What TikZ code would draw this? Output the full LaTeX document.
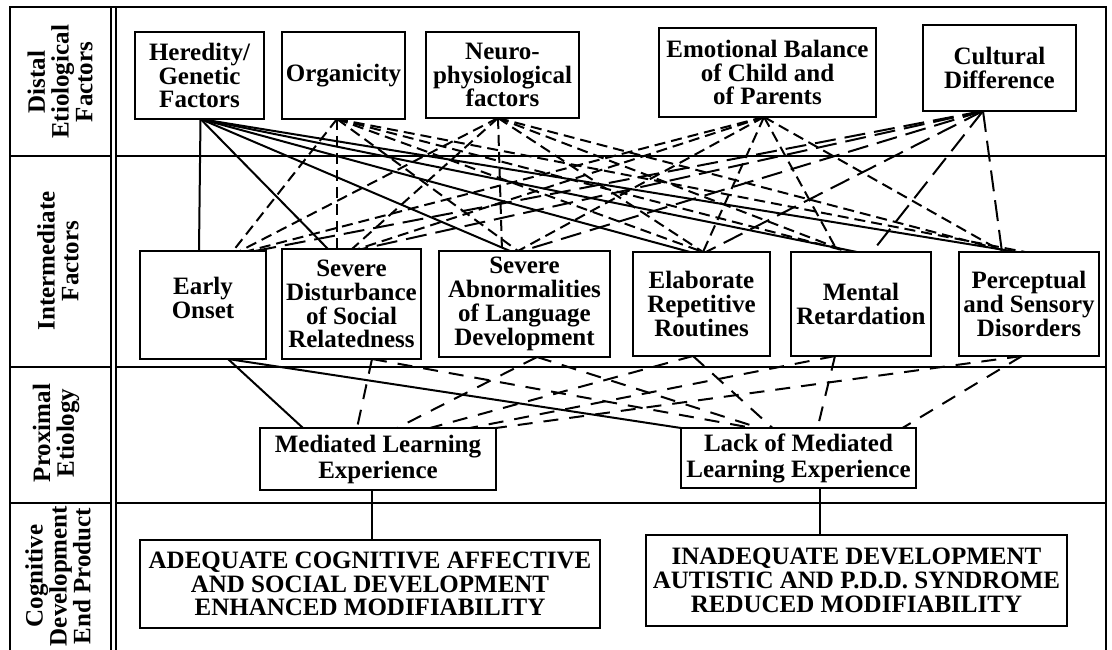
\documentclass[tikz,border=0pt]{standalone}
\usepackage{fontspec}
\setmainfont{Liberation Serif}
\newcommand\boxfont{\fontsize{25}{23.8}\selectfont\bfseries}
\newcommand\proxfont{\fontsize{25}{26}\selectfont\bfseries}
\begin{document}
\begin{tikzpicture}[x=1pt,y=-1pt,
  box/.style={draw, line width=2.4pt, align=center, inner sep=0pt, outer sep=0pt, font=\boxfont},
  proxbox/.style={box, font=\proxfont},
  lab/.style={rotate=90, align=center, inner sep=0pt, font=\boxfont},
  frame/.style={line width=2.2pt},
  link/.style={line width=2pt},
  dsh/.style={link, dash pattern=on 11pt off 6pt},
  ldsh/.style={link, dash pattern=on 21pt off 9pt},
  bdsh/.style={link, dash pattern=on 15pt off 11pt}]
\useasboundingbox (0,0) rectangle (1112,650);

% frame and row rules
\draw[frame] (10,650) -- (10,7) -- (1106,7) -- (1106,650);
\draw[frame] (111,7) -- (111,650);
\draw[frame] (116,7) -- (116,650);
\foreach \y in {156,367,503} {
  \draw[frame] (10,\y) -- (111,\y);
  \draw[frame] (116,\y) -- (1106,\y);
}

% row labels
\node[lab] (L1) at (60,82) {Distal\\Etiological\\Factors};
\node[lab] (L2) at (58,261) {Intermediate\\Factors};
\node[lab] (L3) at (56,433) {Proximal\\Etiology};
\node[lab] (L4) at (58,576) {Cognitive\\Development\\End Product};

% distal etiological factors
\node[box, minimum width=129pt, minimum height=87pt] (H) at (199.5,75.5) {Heredity/\\Genetic\\Factors};
\node[box, minimum width=123pt, minimum height=87pt] (O) at (343.5,75.5) {Organicity};
\node[box, minimum width=153pt, minimum height=86pt] (N) at (502.5,75) {Neuro-\\physiological\\factors};
\node[box, minimum width=217pt, minimum height=89pt] (E) at (767.5,72.5) {Emotional Balance\\of Child and\\of Parents};
\node[box, minimum width=153pt, minimum height=86pt] (C) at (999.5,68) {Cultural\\Difference};

% intermediate factors
\node[box, minimum width=126pt, minimum height=108pt] (EO) at (203,305) {Early\\Onset\\[-10pt]};
\node[box, minimum width=139pt, minimum height=110pt] (SD) at (351.5,304) {Severe\\Disturbance\\of Social\\Relatedness};
\node[box, minimum width=171pt, minimum height=106pt] (SA) at (524.5,304) {Severe\\Abnormalities\\of Language\\Development};
\node[box, minimum width=137pt, minimum height=104pt] (ER) at (701.5,304) {Elaborate\\Repetitive\\Routines};
\node[box, minimum width=140pt, minimum height=104pt] (MR) at (861,304) {Mental\\Retardation};
\node[box, minimum width=140pt, minimum height=104pt] (PS) at (1029,304) {Perceptual\\and Sensory\\Disorders};

% proximal etiology
\node[proxbox, minimum width=236pt, minimum height=62pt] (MLE) at (378,459) {Mediated Learning\\Experience};
\node[proxbox, minimum width=235pt, minimum height=60pt] (LK) at (798.5,458) {Lack of Mediated\\Learning Experience};

% cognitive development end product
\node[box, minimum width=460pt, minimum height=88pt] (AD) at (370,584) {ADEQUATE COGNITIVE AFFECTIVE\\AND SOCIAL DEVELOPMENT\\ENHANCED MODIFIABILITY};
\node[box, minimum width=421pt, minimum height=91pt] (IN) at (856.5,580.5) {INADEQUATE DEVELOPMENT\\AUTISTIC AND P.D.D. SYNDROME\\REDUCED MODIFIABILITY};

% meeting points under the distal boxes
\coordinate (Hb) at ([xshift=1pt]H.south);
\coordinate (Ob) at ([xshift=-6.5pt]O.south);
\coordinate (Nb) at ([xshift=-4.5pt]N.south);
\coordinate (Eb) at ([xshift=-3.5pt]E.south);
\coordinate (Cb) at ([xshift=-16.5pt]C.south);

% distal -> intermediate
\foreach \t/\s in {EO/-4, SD/-23.5, SA/-14.5, ER/-11.5, MR/-4, PS/-12}
  \draw[link] (Hb) -- ([xshift=\s pt]\t.north);
\foreach \t/\s in {EO/30, SD/-14.5, SA/-6.5, ER/1.5, MR/-11, PS/-4}
  \draw[dsh] (Ob) -- ([xshift=\s pt]\t.north);
\foreach \t/\s in {EO/37, SD/0.5, SA/-22.5, ER/1.5, MR/-13, PS/-19}
  \draw[dsh] (Nb) -- ([xshift=\s pt]\t.north);
\foreach \t/\s in {EO/45, SD/6.5, SA/-6.5, ER/1.5, MR/-23, PS/-26}
  \draw[dsh] (Eb) -- ([xshift=\s pt]\t.north);
\foreach \t/\s in {EO/52, SD/10.5, SA/-2.5, ER/4.5, MR/11, PS/-27}
  \draw[ldsh] (Cb) -- ([xshift=\s pt]\t.north);

% meeting points under the intermediate boxes
\coordinate (EOs) at ([xshift=25pt]EO.south);
\coordinate (SDs) at ([xshift=20.5pt]SD.south);
\coordinate (SAs) at ([xshift=12.5pt]SA.south);
\coordinate (ERs) at ([xshift=-8.5pt]ER.south);
\coordinate (MRs) at ([xshift=-26pt]MR.south);
\coordinate (PSs) at ([xshift=-7pt]PS.south);

% intermediate -> proximal
\draw[link] (EOs) -- ([xshift=-75pt]MLE.north);
\draw[link] (EOs) -- (LK.north west);
\draw[bdsh] (SDs) -- ([xshift=-21pt]MLE.north);
\draw[bdsh] (SAs) -- ([xshift=19pt]MLE.north);
\draw[bdsh] (ERs) -- ([xshift=52pt]MLE.north);
\draw[bdsh] (MRs) -- ([xshift=92pt]MLE.north);
\draw[bdsh] (PSs) -- (MLE.north east);
\draw[bdsh] (SDs) -- ([xshift=-46pt]LK.north);
\draw[bdsh] (SAs) -- ([xshift=-39pt]LK.north);
\draw[bdsh] (ERs) -- ([xshift=-26pt]LK.north);
\draw[bdsh] (MRs) -- ([xshift=19pt]LK.north);
\draw[bdsh] (PSs) -- ([xshift=104pt]LK.north);

% proximal -> end product
\draw[link] ([xshift=-6pt]MLE.south) -- ([xshift=2pt]AD.north);
\draw[link] ([xshift=21.5pt]LK.south) -- ([xshift=-36.5pt]IN.north);
\end{tikzpicture}
\end{document}
